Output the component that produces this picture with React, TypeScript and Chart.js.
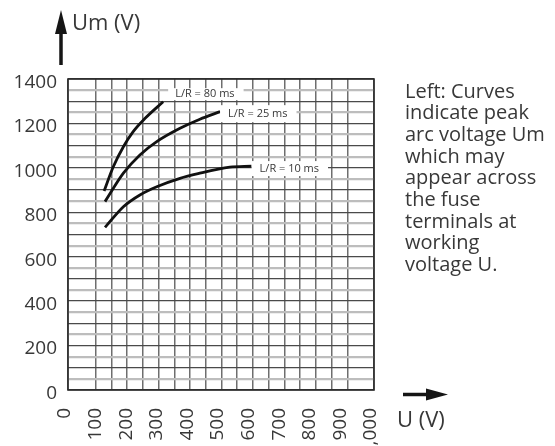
import React, { useEffect, useRef } from 'react';
import { Chart, registerables } from 'chart.js';

Chart.register(...registerables);

// ---- data ----
const seriesLabels = ['L/R = 80 ms', 'L/R = 25 ms', 'L/R = 10 ms'];
const u80 = [118, 148, 181, 213, 252, 311];
const um80 = [896, 1005, 1095, 1163, 1223, 1298];
const u25 = [121, 181, 235, 290, 366, 431, 497];
const um25 = [848, 976, 1058, 1118, 1178, 1219, 1253];
const u10 = [121, 181, 235, 290, 366, 425, 529, 600];
const um10 = [732, 825, 878, 915, 953, 974, 1003, 1008];
const xTickValues = [0, 100, 200, 300, 400, 500, 600, 700, 800, 900, 1000];
const yTickValues = [0, 200, 400, 600, 800, 1000, 1200, 1400];
const yTitle = 'Um (V)';
const xTitle = 'U (V)';
const noteLines = [
  'Left: Curves',
  'indicate peak',
  'arc voltage Um',
  'which may',
  'appear across',
  'the fuse',
  'terminals at',
  'working',
  'voltage U.',
];

// ---- styles ----
const FONT = '"Open Sans", sans-serif';
const TEXT = '#383838';
const labelStyle = [
  { dx: 12, bx: 5, dy: -7.5, h: 12 },
  { dx: 8, bx: 0, dy: 2, h: 17 },
  { dx: 8, bx: 0, dy: 2.5, h: 15 },
];

const decorPlugin = {
  id: 'decor',
  beforeDatasetsDraw(chart: any) {
    const { ctx, chartArea: a } = chart;
    ctx.save();
    ctx.strokeStyle = '#2a2a2a';
    ctx.lineWidth = 1.6;
    ctx.strokeRect(a.left, a.top, a.right - a.left, a.bottom - a.top);
    ctx.restore();
  },
  afterDatasetsDraw(chart: any) {
    const { ctx } = chart;
    ctx.save();
    ctx.font = `11px ${FONT}`;
    ctx.textBaseline = 'middle';
    chart.data.datasets.forEach((ds: any, i: number) => {
      const meta = chart.getDatasetMeta(i);
      const last = meta.data[meta.data.length - 1];
      const st = labelStyle[i];
      const tx = last.x + st.dx;
      const cy = last.y + st.dy;
      const w = ctx.measureText(ds.label).width;
      ctx.fillStyle = '#ffffff';
      ctx.fillRect(last.x + st.bx, cy - st.h / 2, tx + w + 9 - (last.x + st.bx), st.h);
      ctx.fillStyle = TEXT;
      ctx.fillText(ds.label, tx, cy);
    });
    ctx.restore();
  },
  afterDraw(chart: any) {
    const { ctx } = chart;
    ctx.save();
    ctx.fillStyle = '#151515';
    ctx.strokeStyle = '#151515';
    ctx.lineWidth = 3.5;
    // vertical arrow
    ctx.beginPath();
    ctx.moveTo(61, 65);
    ctx.lineTo(61, 28);
    ctx.stroke();
    ctx.beginPath();
    ctx.moveTo(61, 10);
    ctx.lineTo(55, 34);
    ctx.lineTo(67, 34);
    ctx.closePath();
    ctx.fill();
    // horizontal arrow
    ctx.beginPath();
    ctx.moveTo(403, 394.5);
    ctx.lineTo(430, 394.5);
    ctx.stroke();
    ctx.beginPath();
    ctx.moveTo(448, 394.5);
    ctx.lineTo(426, 388.5);
    ctx.lineTo(426, 400.5);
    ctx.closePath();
    ctx.fill();
    // titles
    ctx.fillStyle = TEXT;
    ctx.textBaseline = 'alphabetic';
    ctx.font = `22px ${FONT}`;
    ctx.fillText(yTitle, 72, 29.5);
    ctx.fillText(xTitle, 397, 427);
    // note
    ctx.font = `20px ${FONT}`;
    noteLines.forEach((line, i) => {
      ctx.fillText(line, 405, 97.5 + i * 21.7);
    });
    ctx.restore();
  },
};

export default function App() {
  const canvasRef = useRef<HTMLCanvasElement | null>(null);

  useEffect(() => {
    const canvas = canvasRef.current;
    if (!canvas) return;
    const mk = (xs: number[], ys: number[]) => xs.map((x, i) => ({ x, y: ys[i] }));
    const series = [mk(u80, um80), mk(u25, um25), mk(u10, um10)];
    const chart = new Chart(canvas, {
      type: 'scatter',
      data: {
        datasets: series.map((d, i) => ({
          label: seriesLabels[i],
          data: d,
          showLine: true,
          pointRadius: 0,
          borderColor: '#111111',
          borderWidth: 2.8,
          cubicInterpolationMode: 'monotone' as const,
          fill: false,
        })),
      },
      options: {
        animation: false,
        responsive: false,
        devicePixelRatio: 1,
        layout: { padding: { left: 0, top: 79, right: 181, bottom: 0 } },
        plugins: { legend: { display: false }, tooltip: { enabled: false } },
        scales: {
          x: {
            type: 'linear',
            position: 'bottom',
            min: xTickValues[0],
            max: xTickValues[xTickValues.length - 1],
            afterFit: (s: any) => { s.height = 56; },
            afterBuildTicks: (s: any) => { s.ticks = xTickValues.map((v) => ({ value: v })); },
            ticks: {
              autoSkip: false,
              minRotation: 90,
              maxRotation: 90,
              padding: 18,
              labelOffset: -3,
              color: TEXT,
              font: { family: FONT, size: 19 },
            },
            grid: { display: false, drawTicks: false },
            border: { display: false },
          },
          xg: {
            type: 'linear',
            position: 'top',
            min: -0.762,
            max: 18.7,
            afterFit: (s: any) => { s.height = 0; },
            ticks: { display: false, stepSize: 1 },
            grid: { color: '#6e6e6e', lineWidth: 1.5, drawTicks: false },
            border: { display: false },
          },
          y: {
            type: 'linear',
            min: yTickValues[0],
            max: yTickValues[yTickValues.length - 1],
            afterFit: (s: any) => { s.width = 68; },
            ticks: {
              stepSize: 50,
              autoSkip: false,
              padding: 11,
              labelOffset: 3.5,
              color: TEXT,
              font: { family: FONT, size: 19 },
              callback: (v: any) => (yTickValues.includes(Number(v)) ? String(v) : ''),
            },
            grid: {
              drawTicks: false,
              color: (c: any) => (c.tick && c.tick.value % 100 === 0 ? '#4a4a4a' : '#bdbdbd'),
              lineWidth: (c: any) => (c.tick && c.tick.value % 100 === 0 ? 1.3 : 2.2),
            },
            border: { display: false },
          },
        },
      },
      plugins: [decorPlugin],
    });
    return () => chart.destroy();
  }, []);

  return (
    <div style={{ position: 'fixed', left: 0, top: 0, width: 555, height: 446, background: '#fff' }}>
      <canvas ref={canvasRef} width={555} height={446} style={{ width: 555, height: 446, display: 'block' }} />
    </div>
  );
}
